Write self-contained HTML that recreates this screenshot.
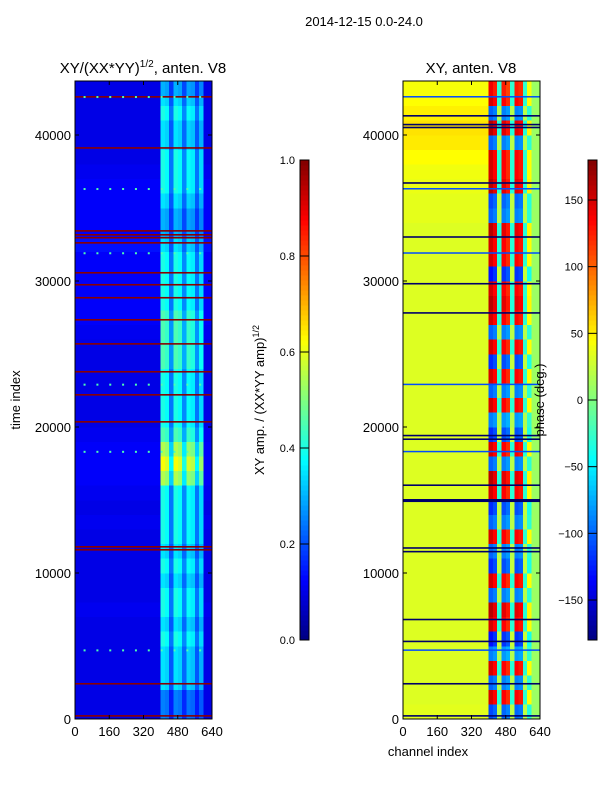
<!DOCTYPE html>
<html><head><meta charset="utf-8"><style>
body{margin:0;background:#fff;width:600px;height:800px;overflow:hidden}
svg text{font-family:"Liberation Sans",sans-serif;fill:#000}
</style></head><body>
<svg id="fig" width="600" height="800" xmlns="http://www.w3.org/2000/svg">
<text x="364" y="26" font-size="13" text-anchor="middle">2014-12-15 0.0-24.0</text>
<text x="143" y="73" font-size="15" text-anchor="middle">XY/(XX*YY)<tspan font-size="10" dy="-6">1/2</tspan><tspan dy="6">, anten. V8</tspan></text>
<text x="471" y="73" font-size="15" text-anchor="middle">XY, anten. V8</text>
<g id="left"></g>
<g id="right"></g>
<g id="cb1"></g>
<g id="cb2"></g>
<text transform="translate(20,400) rotate(-90)" font-size="13" text-anchor="middle">time index</text>
<text x="428" y="756" font-size="13" text-anchor="middle">channel index</text>
<text transform="translate(264,400) rotate(-90)" font-size="13" text-anchor="middle">XY amp. / (XX*YY amp)<tspan font-size="9" dy="-5">1/2</tspan></text>
<text transform="translate(544,400) rotate(-90)" font-size="13" text-anchor="middle">phase (deg.)</text>
</svg>
<script>
const timeBins=44;
const chanBins=32;
const ampLow=[0.1,0.1,0.1,0.1,0.1,0.1,0.1,0.11,0.1,0.1,0.1,0.1,0.1,0.11,0.1,0.11,0.12,0.12,0.12,0.11,0.1,0.1,0.1,0.1,0.1,0.1,0.11,0.12,0.12,0.12,0.12,0.12,0.14,0.12,0.12,0.12,0.12,0.11,0.1,0.1,0.1,0.1,0.1,0.1];
const ampHigh=[0.25,0.25,0.35,0.35,0.35,0.4,0.35,0.4,0.4,0.35,0.4,0.35,0.4,0.4,0.4,0.4,0.55,0.62,0.55,0.45,0.4,0.4,0.4,0.4,0.45,0.45,0.45,0.45,0.4,0.4,0.4,0.4,0.35,0.3,0.3,0.35,0.4,0.4,0.4,0.35,0.35,0.4,0.35,0.3];
const highPattern=[1.0,0.95,0.6,1.0,0.95,0.65,0.95,0.9,0.6,0.85];
const phaseLow=[35,33,33,33,33,33,33,33,33,33,33,33,33,33,33,33,33,33,33,33,33,33,33,33,33,33,33,33,33,33,33,33,33,33,36,36,38,40,45,52,55,50,45,42];
const phaseHigh=[-110,150,-100,150,-90,-130,150,160,-100,150,-120,-100,150,-100,-120,150,160,-100,150,-120,-90,150,-100,150,-120,150,-100,150,160,150,-130,150,150,160,-100,-110,160,150,150,-100,160,-100,150,140];
const phasePattern=[1,0.9,-0.2,0.9,0.8,-0.2,0.9,0.85,-0.2,0.3];
const flagTimes=[42600,39100,33420,33150,32950,32600,30550,29730,28840,27330,25680,23770,22190,20340,11780,11575,2400,200];
const blackTimes=[41300,40700,40500,36700,33000,29800,27800,19400,19150,16000,15000,14900,11700,11450,6800,5300,2400,200];
const spikeTimes=[42600,36300,31900,22900,18300,4700];
const xTicks=[0,160,320,480,640];
const yTicks=[0,10000,20000,30000,40000];
const ampTicks=[0.0,0.2,0.4,0.6,0.8,1.0];
const phaseTicks=[-150,-100,-50,0,50,100,150];
const NS='http://www.w3.org/2000/svg';
const T0=719,TMAX=43700,PH=638;
function yS(t){return T0-t/10000*146;}
function jet(v){v=Math.max(0,Math.min(1,v));
 const f=x=>Math.round(255*Math.max(0,Math.min(1,x)));
 return `rgb(${f(1.5-Math.abs(4*v-3))},${f(1.5-Math.abs(4*v-2))},${f(1.5-Math.abs(4*v-1))})`;}
function mk(tag,a,p){const e=document.createElementNS(NS,tag);for(const k in a)e.setAttribute(k,a[k]);p.appendChild(e);return e;}
function panel(id,x0,cellVal,flagColor,flags,extra){
 const g=document.getElementById(id);
 const xS=c=>x0+c/640*137;
 for(let r=0;r<timeBins;r++){
  for(let c=0;c<chanBins;c++){
   const el=mk('rect',{x:xS(c*20),y:yS(Math.min((r+1)*1000,TMAX)),width:137/chanBins+0.3,height:146/10+0.3,fill:cellVal(r,c),'shape-rendering':'crispEdges'},g);
   
   
  }}
 flags.forEach(t=>{const l=mk('rect',{x:x0,y:yS(t)-1,width:137,height:1.6,fill:flagColor},g);
  
  });
 if(extra)extra(g,xS);
 mk('rect',{x:x0,y:81,width:137,height:PH,fill:'none',stroke:'#000','stroke-width':1},g);
 xTicks.forEach(v=>{const x=xS(v);mk('line',{x1:x,x2:x,y1:719,y2:715,stroke:'#000'},g);mk('line',{x1:x,x2:x,y1:81,y2:85,stroke:'#000'},g);
  const t=mk('text',{x:x,y:736,'font-size':13,'text-anchor':'middle'},g);t.textContent=v;
  
  });
 yTicks.forEach(v=>{const y=yS(v);mk('line',{x1:x0,x2:x0+4,y1:y,y2:y,stroke:'#000'},g);mk('line',{x1:x0+137,x2:x0+133,y1:y,y2:y,stroke:'#000'},g);
  const t=mk('text',{x:x0-4,y:y+5,'font-size':13,'text-anchor':'end'},g);t.textContent=v;
  
  });
}
panel('left',75,(r,c)=>{
 if(c>=20&&c<30)return jet(ampHigh[r]*highPattern[c-20]);
 return jet(ampLow[r]);},'#8b0000',flagTimes,(g,xS)=>{
 spikeTimes.forEach(t=>{for(let c=2;c<30;c+=3){const s=mk('rect',{x:xS(c*20),y:yS(t)-1,width:2,height:2,fill:jet(0.45)},g);
  
  }});});
panel('right',403,(r,c)=>{
 if(c>=20&&c<30)return jet((phaseHigh[r]*phasePattern[c-20]+180)/360);
 if(c>=30)return jet((10+180)/360);
 return jet((phaseLow[r]+180)/360);},'#00006a',blackTimes,(g,xS)=>{
 spikeTimes.forEach(t=>{const s=mk('rect',{x:403,y:yS(t)-1,width:137,height:1.5,fill:jet(0.2)},g);
  
  });});
function cbar(id,x,ticks,vmin,vmax,fmt){
 const g=document.getElementById(id);
 for(let i=0;i<96;i++){mk('rect',{x:x,y:640-(i+1)*5,width:9,height:5.3,fill:jet((i+0.5)/96),'shape-rendering':'crispEdges'},g);}
 mk('rect',{x:x,y:160,width:9,height:480,fill:'none',stroke:'#000'},g);
 ticks.forEach(v=>{const y=640-(v-vmin)/(vmax-vmin)*480;
  mk('line',{x1:x,x2:x+9,y1:y,y2:y,stroke:'#000'},g);
  const t=mk('text',{x:x-5,y:y+4,'font-size':11,'text-anchor':'end'},g);t.textContent=fmt(v);
  
  });
}
cbar('cb1',300,ampTicks,0,1,v=>v.toFixed(1));
cbar('cb2',588,phaseTicks,-180,180,v=>v<0?'\u2212'+(-v):''+v);
</script>
</body></html>
